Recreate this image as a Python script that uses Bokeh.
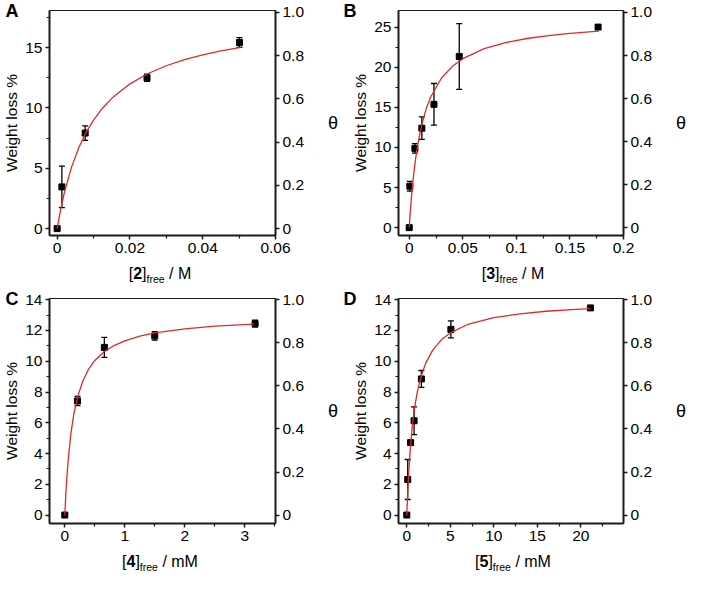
from bokeh.plotting import figure
from bokeh.models import (Range1d, LinearAxis, FixedTicker, ColumnDataSource,
                          Whisker, TeeHead, Div)
from bokeh.layouts import row, column
from bokeh.embed import file_html
from bokeh.resources import INLINE

# ---------------- data ----------------
# Panel A : [2]free / M
a_x = [0.0, 0.0013, 0.0077, 0.0247, 0.0501]
a_y = [0.0, 3.46, 7.92, 12.5, 15.43]
a_err = [0.0, 1.72, 0.6, 0.3, 0.4]
a_fit_x = [0.0, 0.001, 0.002, 0.004, 0.006, 0.008, 0.01, 0.0125, 0.015, 0.02,
           0.025, 0.03, 0.035, 0.04, 0.045, 0.0505]
a_fit_y = [0.0, 1.64, 3.0, 5.14, 6.75, 8.0, 9.0, 10.0, 10.8, 12.0,
           12.86, 13.5, 14.0, 14.4, 14.73, 15.02]

# Panel B : [3]free / M
b_x = [0.0, 0.0006, 0.0053, 0.0118, 0.0231, 0.0467, 0.1763]
b_y = [0.0, 5.16, 9.88, 12.4, 15.37, 21.34, 25.0]
b_err = [0.0, 0.6, 0.6, 1.4, 2.6, 4.1, 0.2]
b_fit_x = [0.0, 0.001, 0.002, 0.004, 0.006, 0.008, 0.012, 0.016, 0.02, 0.03,
           0.04, 0.05, 0.07, 0.09, 0.11, 0.13, 0.15, 0.177]
b_fit_y = [0.0, 1.99, 3.69, 6.47, 8.64, 10.38, 12.99, 14.87, 16.28, 18.63,
           20.08, 21.06, 22.31, 23.07, 23.58, 23.95, 24.23, 24.51]

# Panel C : [4]free / mM
c_x = [0.0, 0.212, 0.659, 1.498, 3.17]
c_y = [0.0, 7.42, 10.9, 11.65, 12.45]
c_err = [0.0, 0.3, 0.65, 0.28, 0.23]
c_fit_x = [0.0, 0.02, 0.05, 0.1, 0.15, 0.21, 0.3, 0.4, 0.5, 0.65, 0.8, 1.0,
           1.25, 1.5, 2.0, 2.5, 3.15]
c_fit_y = [0.0, 1.56, 3.3, 5.26, 6.56, 7.65, 8.72, 9.51, 10.05, 10.6, 10.98,
           11.33, 11.63, 11.84, 12.11, 12.28, 12.42]

# Panel D : [5]free / mM
d_x = [0.0, 0.11, 0.44, 0.84, 1.68, 5.07, 21.1]
d_y = [0.0, 2.31, 4.71, 6.13, 8.85, 12.07, 13.47]
d_err = [0.0, 1.3, 0.1, 0.9, 0.55, 0.55, 0.08]
d_fit_x = [0.0, 0.1, 0.2, 0.4, 0.6, 0.8, 1.0, 1.3, 1.7, 2.2, 3.0, 4.0, 5.1,
           7.0, 10.0, 13.0, 16.0, 19.0, 21.1]
d_fit_y = [0.0, 1.39, 2.52, 4.28, 5.57, 6.55, 7.33, 8.24, 9.12, 9.91, 10.74,
           11.41, 11.88, 12.39, 12.83, 13.08, 13.25, 13.36, 13.42]

# ticks
a_xticks = [0, 0.02, 0.04, 0.06]
a_xlabels = ["0", "0.02", "0.04", "0.06"]
a_xminor = [0.01, 0.03, 0.05]
a_yticks = [0, 5, 10, 15]
a_ylabels = ["0", "5", "10", "15"]
a_yminor = [2.5, 7.5, 12.5, 17.5]

b_xticks = [0, 0.05, 0.1, 0.15, 0.2]
b_xlabels = ["0", "0.05", "0.1", "0.15", "0.2"]
b_xminor = [0.025, 0.075, 0.125, 0.175]
b_yticks = [0, 5, 10, 15, 20, 25]
b_ylabels = ["0", "5", "10", "15", "20", "25"]
b_yminor = [2.5, 7.5, 12.5, 17.5, 22.5]

c_xticks = [0, 1, 2, 3]
c_xlabels = ["0", "1", "2", "3"]
c_xminor = [0.5, 1.5, 2.5, 3.5]
c_yticks = [0, 2, 4, 6, 8, 10, 12, 14]
c_ylabels = ["0", "2", "4", "6", "8", "10", "12", "14"]
c_yminor = [1, 3, 5, 7, 9, 11, 13]

d_xticks = [0, 5, 10, 15, 20]
d_xlabels = ["0", "5", "10", "15", "20"]
d_xminor = [2.5, 7.5, 12.5, 17.5, 22.5]
d_yticks = c_yticks
d_ylabels = c_ylabels
d_yminor = c_yminor

theta_ticks = [0, 0.2, 0.4, 0.6, 0.8, 1.0]
theta_labels = ["0", "0.2", "0.4", "0.6", "0.8", "1.0"]

# ---------------- styling ----------------
FONT = "Liberation Sans"
AXC = "#1a1a1a"
RED = "#e3262b"


def style_axis(ax, ticks, labels, minor):
    ax.ticker = FixedTicker(ticks=ticks, minor_ticks=minor)
    ax.major_label_overrides = {t: l for t, l in zip(ticks, labels)}
    ax.axis_line_color = AXC
    ax.axis_line_width = 2
    ax.major_tick_line_color = AXC
    ax.major_tick_line_width = 1.5
    ax.major_tick_out = 4
    ax.major_tick_in = 0
    ax.minor_tick_line_color = AXC
    ax.minor_tick_line_width = 1.2
    ax.minor_tick_out = 3
    ax.minor_tick_in = 0
    ax.major_label_text_font = FONT
    ax.major_label_text_font_size = "15.5px"
    ax.major_label_text_color = "black"
    ax.major_label_standoff = 3


def panel(letter, num, unit, xs, ys, errs, fx, fy, xr, yr, tr,
          xt, xl, xm, yt, yl, ym, W, bl, br, bt, fh, div_h, letter_so):
    fw = W - bl - br
    bb = 28
    H = bt + fh + bb
    p = figure(width=W, height=H, x_range=Range1d(*xr), y_range=Range1d(*yr),
               output_backend="svg", toolbar_location=None,
               min_border_left=bl, min_border_right=br,
               min_border_top=bt, min_border_bottom=bb)
    p.xgrid.visible = False
    p.ygrid.visible = False
    p.outline_line_color = AXC
    p.outline_line_width = 1
    p.background_fill_color = "white"
    p.border_fill_color = "white"

    p.extra_y_ranges = {"theta": Range1d(*tr)}
    rax = LinearAxis(y_range_name="theta")
    p.add_layout(rax, "right")

    style_axis(p.xaxis[0], xt, xl, xm)
    style_axis(p.yaxis[0], yt, yl, ym)
    style_axis(rax, theta_ticks, theta_labels, [])

    p.yaxis[0].axis_label = "Weight loss %"
    p.yaxis[0].axis_label_text_font = FONT
    p.yaxis[0].axis_label_text_font_size = "15.5px"
    p.yaxis[0].axis_label_text_font_style = "normal"
    p.yaxis[0].axis_label_text_color = "black"
    p.yaxis[0].axis_label_standoff = 2

    rax.axis_label = "θ"
    rax.axis_label_text_font = FONT
    rax.axis_label_text_font_size = "18px"
    rax.axis_label_text_font_style = "normal"
    rax.axis_label_text_color = "black"
    rax.axis_label_standoff = 21
    if "axis_label_orientation" in rax.properties():
        rax.axis_label_orientation = "horizontal"

    # panel letter as the plot title, pulled left over the y-axis area
    p.title.text = letter
    p.title.align = "left"
    p.title.offset = -(bl - 1)
    p.title.vertical_align = "bottom"
    p.title.text_font = FONT
    p.title.text_font_size = "18px"
    p.title.text_font_style = "bold"
    p.title.text_color = "black"
    try:
        p.title.standoff = letter_so
    except Exception:
        p.title.standoff = 0

    src = ColumnDataSource(dict(x=xs, y=ys,
                                upper=[v + e for v, e in zip(ys, errs)],
                                lower=[v - e for v, e in zip(ys, errs)]))
    wh = Whisker(base="x", upper="upper", lower="lower", source=src,
                 dimension="height", line_color="black", line_width=1.3,
                 upper_head=TeeHead(size=6, line_color="black", line_width=1.3),
                 lower_head=TeeHead(size=6, line_color="black", line_width=1.3))
    p.add_layout(wh)
    p.scatter("x", "y", source=src, marker="square", size=6,
              fill_color="black", line_color="black")
    p.line(fx, fy, line_color=RED, line_width=1.3)

    html = (f'<div style="margin-left:{bl}px;width:{fw}px;text-align:center;'
            f'font-family:\'{FONT}\';font-size:16px;line-height:18px;'
            f'padding-top:2px;color:black;white-space:nowrap;">'
            f'[<b>{num}</b>]<span style="font-size:10.5px;vertical-align:-4px;">free</span>'
            f' / {unit}</div>')
    div = Div(text=html, width=W, height=div_h, margin=(0, 0, 0, 0))
    return column(p, div, spacing=0)


WL, WR = 342, 347
FH = 225

pa = panel("A", "2", "M", a_x, a_y, a_err, a_fit_x, a_fit_y,
           (-0.0021, 0.06), (-0.57, 18.08), (-0.032, 1.009),
           a_xticks, a_xlabels, a_xminor, a_yticks, a_ylabels, a_yminor,
           WL, 45, 67, 10, FH, 24, -21)
pb = panel("B", "3", "M", b_x, b_y, b_err, b_fit_x, b_fit_y,
           (-0.01, 0.2), (-0.98, 27.07), (-0.036, 1.009),
           b_xticks, b_xlabels, b_xminor, b_yticks, b_ylabels, b_yminor,
           WR, 56, 61, 10, FH, 24, -21)
pc = panel("C", "4", "mM", c_x, c_y, c_err, c_fit_x, c_fit_y,
           (-0.255, 3.51), (-0.55, 14.08), (-0.039, 1.006),
           c_xticks, c_xlabels, c_xminor, c_yticks, c_ylabels, c_yminor,
           WL, 45, 67, 11, FH, 26, -21)
pd = panel("D", "5", "mM", d_x, d_y, d_err, d_fit_x, d_fit_y,
           (-0.95, 24.9), (-0.55, 14.08), (-0.039, 1.006),
           d_xticks, d_xlabels, d_xminor, d_yticks, d_ylabels, d_yminor,
           WR, 56, 61, 11, FH, 26, -21)

layout = column(row(pa, pb, spacing=0), row(pc, pd, spacing=0), spacing=0)
open("out.html", "w").write(file_html(layout, INLINE))
